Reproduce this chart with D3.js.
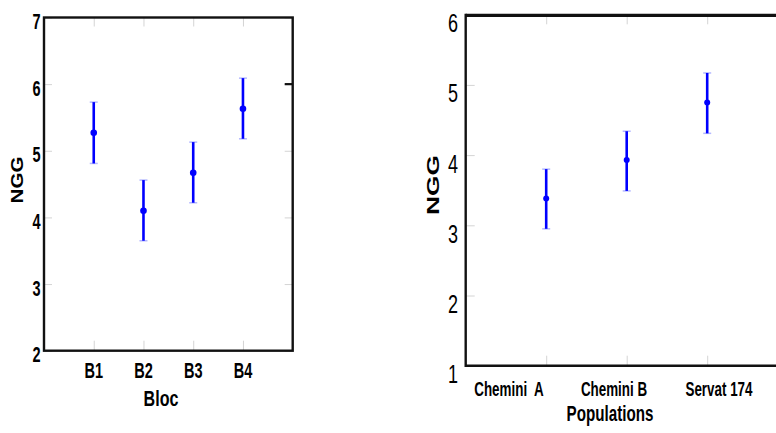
<!DOCTYPE html>
<html><head><meta charset="utf-8">
<script src="https://cdn.jsdelivr.net/npm/d3@7"></script>
<style>body{margin:0;background:#fff}svg{display:block}text{white-space:pre}</style>
</head><body><svg id="c" width="776" height="433"></svg>
<script>
// ---- data ----
const blocCats = ["B1","B2","B3","B4"];
const blocMean = [5.27, 4.10, 4.67, 5.63];
const blocLow  = [4.81, 3.65, 4.22, 5.18];
const blocHigh = [5.73, 4.56, 5.13, 6.09];
const blocYTicks = [2,3,4,5,6,7];

const popCats = ["Chemini  A","Chemini B","Servat 174"];
const popMean = [3.38, 3.93, 4.75];
const popLow  = [2.95, 3.49, 4.31];
const popHigh = [3.80, 4.34, 5.17];
const popYTicks = [1,2,3,4,5,6];

const svg = d3.select("#c");
const F = "'Liberation Sans', Arial, sans-serif";
const gray = "#d4d4d4";

function narrowText(g, x, y, txt, size, weight, sx, anchor){
  return g.append("text").attr("transform",`translate(${x},${y}) scale(${sx},1)`)
    .attr("text-anchor",anchor).attr("font-family",F).attr("font-size",size)
    .attr("font-weight",weight).attr("fill","#000").text(txt);
}
function grayAxis(g, axis, tr){
  const a = g.append("g").attr("transform",tr).call(axis);
  a.select(".domain").remove();
  a.selectAll("line").attr("stroke",gray).attr("stroke-width",1);
  a.selectAll("text").remove();
  return a;
}
function errorBars(g, x, y, cats, mean, lo, hi, r){
  const d = cats.map((c,i)=>({i, m:mean[i], l:lo[i], h:hi[i]}));
  const gg = g.append("g");
  gg.selectAll(".cap").data(d.flatMap(e=>[{i:e.i,v:e.l},{i:e.i,v:e.h}])).join("line")
    .attr("x1",e=>x(e.i+1)-4).attr("x2",e=>x(e.i+1)+4)
    .attr("y1",e=>y(e.v)).attr("y2",e=>y(e.v))
    .attr("stroke","#b4b8ff").attr("stroke-width",1.5);
  gg.selectAll(".bar").data(d).join("line")
    .attr("x1",e=>x(e.i+1)).attr("x2",e=>x(e.i+1))
    .attr("y1",e=>y(e.l)).attr("y2",e=>y(e.h))
    .attr("stroke","#0000ff").attr("stroke-width",2.6);
  gg.selectAll(".dot").data(d).join("circle")
    .attr("cx",e=>x(e.i+1)).attr("cy",e=>y(e.m)).attr("r",r).attr("fill","#0000ff");
}

// ---- left panel ----
{
  const L = 44, R = 292.7, T = 17.5, B = 350.7;
  const x = d3.scaleLinear().domain([0,5]).range([L,R]);
  const y = d3.scaleLinear().domain([2,7]).range([B,T]);
  const g = svg.append("g");
  const catIdx = blocCats.map((c,i)=>i+1);
  grayAxis(g, d3.axisTop(x).tickValues(catIdx).tickSize(-9), `translate(0,${T})`);
  grayAxis(g, d3.axisBottom(x).tickValues(catIdx).tickSize(-10), `translate(0,${B})`);
  grayAxis(g, d3.axisLeft(y).tickValues(blocYTicks).tickSize(-8), `translate(${L},0)`);
  grayAxis(g, d3.axisRight(y).tickValues(blocYTicks).tickSize(-8), `translate(${R},0)`);
  g.append("line").attr("x1",R-8).attr("x2",R).attr("y1",y(6)).attr("y2",y(6))
    .attr("stroke","#111").attr("stroke-width",2.2);
  g.append("rect").attr("x",L).attr("y",T).attr("width",R-L).attr("height",B-T)
    .attr("fill","none").attr("stroke","#111").attr("stroke-width",2.4);
  errorBars(g, x, y, blocCats, blocMean, blocLow, blocHigh, 3.3);
  blocYTicks.forEach(t=>narrowText(g, 40.5, y(t)+11.5, String(t), 22, "bold", 0.66, "end"));
  blocCats.forEach((c,i)=>narrowText(g, x(i+1), 378.3, c, 22, "bold", 0.66, "middle"));
  narrowText(g, 161, 405.5, "Bloc", 22, "bold", 0.73, "middle");
  g.append("text").attr("transform","translate(23.3,180) rotate(-90)")
    .attr("text-anchor","middle").attr("font-family",F).attr("font-weight","bold")
    .attr("font-size",17).attr("textLength",47).attr("lengthAdjust","spacingAndGlyphs")
    .attr("fill","#000").text("NGG");
}

// ---- right panel ----
{
  const L = 465.7, T = 15.3, B = 365.7;
  const x = d3.scaleLinear().domain([0,4]).range([L,787.7]);
  const y = d3.scaleLinear().domain([1,6]).range([B,14.7]);
  const g = svg.append("g");
  const catIdx = popCats.map((c,i)=>i+1);
  grayAxis(g, d3.axisTop(x).tickValues(catIdx).tickSize(-9), `translate(0,${T})`);
  grayAxis(g, d3.axisBottom(x).tickValues(catIdx).tickSize(-10), `translate(0,${B})`);
  grayAxis(g, d3.axisLeft(y).tickValues(popYTicks).tickSize(-9), `translate(${L},0)`);
  g.append("line").attr("x1",L).attr("x2",776).attr("y1",T).attr("y2",T)
    .attr("stroke","#111").attr("stroke-width",3.2);
  g.append("line").attr("x1",L).attr("x2",776).attr("y1",B).attr("y2",B)
    .attr("stroke","#111").attr("stroke-width",2.4);
  g.append("line").attr("x1",L).attr("x2",L).attr("y1",T-1.5).attr("y2",B+1.2)
    .attr("stroke","#111").attr("stroke-width",2.4);
  errorBars(g, x, y, popCats, popMean, popLow, popHigh, 3);
  popYTicks.forEach(t=>narrowText(g, 458, y(t)+17.5, String(t), 25, "normal", 0.72, "end"));
  const lx = d3.scalePoint().domain(popCats).range([509, 719]);
  popCats.forEach(c=>narrowText(g, lx(c), 395.5, c, 20, "bold", 0.67, "middle"));
  narrowText(g, 610, 421, "Populations", 22, "bold", 0.69, "middle");
  g.append("text").attr("transform","translate(438.8,185) rotate(-90)")
    .attr("text-anchor","middle").attr("font-family",F).attr("font-weight","bold")
    .attr("font-size",16).attr("textLength",60).attr("lengthAdjust","spacingAndGlyphs")
    .attr("fill","#000").text("NGG");
}
</script></body></html>
